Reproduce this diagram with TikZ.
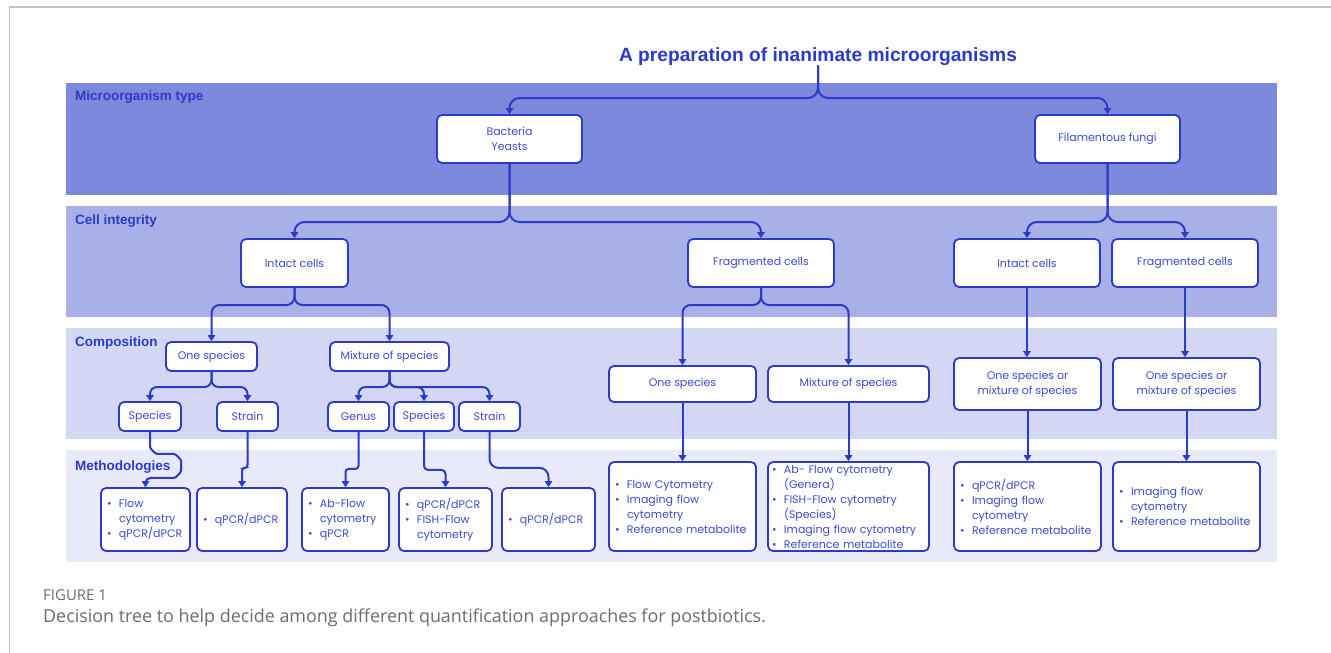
\documentclass[tikz,border=0pt]{standalone}
\usepackage{fontspec}
\setmainfont{Poppins}
\newfontfamily\headfont{Liberation Sans}
\newfontfamily\capfont{Open Sans}
\usetikzlibrary{arrows.meta}

\definecolor{tblue}{RGB}{44,58,199}
\definecolor{txtblue}{RGB}{60,76,208}
\definecolor{bandA}{RGB}{124,137,220}
\definecolor{bandB}{RGB}{168,176,232}
\definecolor{bandC}{RGB}{211,215,244}
\definecolor{bandD}{RGB}{232,234,250}
\definecolor{capgray}{RGB}{108,108,108}
\definecolor{framegray}{RGB}{195,195,195}

\tikzset{
  box/.style={draw=tblue, line width=1.8pt, rounded corners=5pt, fill=white,
    text=txtblue, font=\fontsize{11}{14.7}\selectfont, align=center, inner sep=0pt},
  listbox/.style={box, align=left, font=\fontsize{11}{15}\selectfont},
  conn/.style={draw=tblue, line width=2pt, rounded corners=8pt,
    -{Triangle[width=7.5pt,length=6pt]}},
  bandlabel/.style={anchor=base west, text=tblue, inner sep=0pt,
    font=\headfont\bfseries\fontsize{13.5}{16}\selectfont},
}
\newcommand{\bul}{\makebox[12pt][l]{\textbullet}}
\newcommand{\cnt}{\hspace*{12pt}}

\begin{document}
\begin{tikzpicture}[x=1pt,y=-1pt]
    \useasboundingbox (0,0) rectangle (1331,653);
    %% Frame
    \draw[framegray, line width=1.5pt] (9.5,653) -- (9.5,7) -- (1331,7);
    %% Bands
    \fill[bandA] (66,83) rectangle (1277,195);
    \fill[bandB] (66,206) rectangle (1277,317);
    \fill[bandC] (66,328) rectangle (1277,439);
    \fill[bandD] (66,450) rectangle (1277,562);
    \node[bandlabel] (lbA) at (75,100) {Microorganism type};
    \node[bandlabel] (lbB) at (75,224) {Cell integrity};
    \node[bandlabel] (lbC) at (75,346) {Composition};
    \node[bandlabel] (lbD) at (75,470) {Methodologies};

    %% Title
    \node[anchor=base, inner sep=0pt, text=tblue,
      font=\headfont\bfseries\fontsize{19.2}{23}\selectfont] (title) at (818,61)
      {A preparation of inanimate microorganisms};

    %% Microorganism type
    \node[box, minimum width=145pt, minimum height=48pt] (by) at (509.5,139) {Bacteria\\Yeasts};
    \node[box, minimum width=145pt, minimum height=48pt] (ff) at (1107.5,139) {Filamentous fungi};

    %% Cell integrity
    \node[box, minimum width=107pt, minimum height=48pt] (ic1) at (294.5,263) {Intact cells};
    \node[box, minimum width=146pt, minimum height=48pt] (fc1) at (761,263) {Fragmented cells};
    \node[box, minimum width=146pt, minimum height=48pt] (ic2) at (1027,263) {Intact cells};
    \node[box, minimum width=146pt, minimum height=48pt] (fc2) at (1185,263) {Fragmented cells};

    %% Composition
    \node[box, minimum width=91pt, minimum height=29pt] (os1) at (211.5,356.5) {One species};
    \node[box, minimum width=119pt, minimum height=29pt] (ms1) at (389.5,356.5) {Mixture of species};
    \node[box, minimum width=62pt, minimum height=29pt] (sp1) at (150,416.5) {Species};
    \node[box, minimum width=61pt, minimum height=29pt] (st1) at (247.5,416.5) {Strain};
    \node[box, minimum width=61pt, minimum height=29pt] (ge) at (358.5,416.5) {Genus};
    \node[box, minimum width=60pt, minimum height=29pt] (sp2) at (424,416.5) {Species};
    \node[box, minimum width=61pt, minimum height=29pt] (st2) at (489.5,416.5) {Strain};
    \node[box, minimum width=147pt, minimum height=36pt] (os2) at (682.5,384) {One species};
    \node[box, minimum width=161pt, minimum height=36pt] (ms2) at (848.5,384) {Mixture of species};
    \node[box, minimum width=147pt, minimum height=52pt] (om1) at (1027.5,384) {One species or\\mixture of species};
    \node[box, minimum width=147pt, minimum height=52pt] (om2) at (1186.5,384) {One species or\\mixture of species};

    %% Methodologies
    \node[listbox, minimum width=89pt, minimum height=63pt, text width=77pt] (m1) at (145.5,519.5)
      {\bul Flow\\\cnt cytometry\\\bul qPCR/dPCR};
    \node[listbox, minimum width=90pt, minimum height=63pt, text width=78pt] (m2) at (242,519.5)
      {\bul qPCR/dPCR};
    \node[listbox, minimum width=87pt, minimum height=63pt, text width=75pt] (m3) at (345.5,519.5)
      {\bul Ab-Flow\\\cnt cytometry\\\bul qPCR};
    \node[listbox, minimum width=93pt, minimum height=63pt, text width=81pt] (m4) at (445.5,519.5)
      {\bul qPCR/dPCR\\\bul FISH-Flow\\\cnt cytometry};
    \node[listbox, minimum width=93pt, minimum height=63pt, text width=81pt] (m5) at (548.5,519.5)
      {\bul qPCR/dPCR};
    \node[listbox, minimum width=147pt, minimum height=89pt, text width=135pt] (m6) at (682.5,506.5)
      {\bul Flow Cytometry\\\bul Imaging flow\\\cnt cytometry\\\bul Reference metabolite};
    \node[listbox, minimum width=161pt, minimum height=89pt, text width=153pt] (m7) at (848.5,506.5)
      {\bul Ab- Flow cytometry\\\cnt (Genera)\\\bul FISH-Flow cytometry\\\cnt (Species)\\\bul Imaging flow cytometry\\\bul Reference metabolite};
    \node[listbox, minimum width=147pt, minimum height=89pt, text width=135pt] (m8) at (1027.5,506.5)
      {\bul qPCR/dPCR\\\bul Imaging flow\\\cnt cytometry\\\bul Reference metabolite};
    \node[listbox, minimum width=147pt, minimum height=89pt, text width=135pt] (m9) at (1186.5,506.5)
      {\bul Imaging flow\\\cnt cytometry\\\bul Reference metabolite};

    %% Connectors
    \coordinate (lv0) at (0,98);
    \coordinate (lv1) at (0,222);
    \coordinate (lv2) at (0,305);
    \coordinate (lv3) at (0,387);
    \draw[conn, rounded corners=10pt] (title.south) -- (title.south |- lv0) -| (by.north);
    \draw[conn, rounded corners=10pt] (title.south) -- (title.south |- lv0) -| (ff.north);
    \draw[conn, rounded corners=10pt] (by.south) -- (by.south |- lv1) -| (ic1.north);
    \draw[conn, rounded corners=10pt] (by.south) -- (by.south |- lv1) -| (fc1.north);
    \draw[conn, rounded corners=10pt] (ff.south) -- (ff.south |- lv1) -| (ic2.north);
    \draw[conn, rounded corners=10pt] (ff.south) -- (ff.south |- lv1) -| (fc2.north);
    \draw[conn] (ic1.south) -- (ic1.south |- lv2) -| (os1.north);
    \draw[conn] (ic1.south) -- (ic1.south |- lv2) -| (ms1.north);
    \draw[conn] (fc1.south) -- (fc1.south |- lv2) -| (os2.north);
    \draw[conn] (fc1.south) -- (fc1.south |- lv2) -| (ms2.north);
    \draw[conn] (ic2.south) -- (ic2.south |- om1.north);
    \draw[conn] (fc2.south) -- (fc2.south |- om2.north);
    \draw[conn, rounded corners=7pt] (os1.south) -- (os1.south |- lv3) -| (sp1.north);
    \draw[conn, rounded corners=7pt] (os1.south) -- (os1.south |- lv3) -| (st1.north);
    \draw[conn, rounded corners=7pt] (ms1.south) -- (ms1.south |- lv3) -| (ge.north);
    \draw[conn, rounded corners=7pt] (ms1.south) -- (ms1.south |- lv3) -| (sp2.north);
    \draw[conn, rounded corners=7pt] (ms1.south) -- (ms1.south |- lv3) -| (st2.north);
    \draw[conn, rounded corners=5pt] (sp1.south) -- ++(0,10) to[out=-90,in=180] ++(12,12)
      -- ++(7,0) to[out=0,in=90] ++(12,12) to[out=-90,in=0] ++(-12,12) -| (m1.north);
    \draw[conn, rounded corners=3pt] (st1.south) -- ++(0,36) -| (m2.north);
    \draw[conn, rounded corners=3pt] (ge.south) -- ++(0,37) -| (m3.north);
    \draw[conn, rounded corners=4pt] (sp2.south) -- ++(0,38) -| (m4.north);
    \draw[conn, rounded corners=9pt] (st2.south) -- ++(0,36) -| (m5.north);
    \draw[conn] (os2.south) -- (os2.south |- m6.north);
    \draw[conn] (ms2.south) -- (ms2.south |- m7.north);
    \draw[conn] (om1.south) -- (om1.south |- m8.north);
    \draw[conn] (om2.south) -- (om2.south |- m9.north);

    %% Caption
    \node[anchor=base west, inner sep=0pt, text=capgray, font=\capfont\fontsize{15}{18}\selectfont]
      (fig) at (43,600) {FIGURE 1};
    \node[anchor=base west, inner sep=0pt, text=capgray, font=\capfont\fontsize{17.9}{21}\selectfont]
      (cap) at (43,622.5) {Decision tree to help decide among different quantification approaches for postbiotics.};
\end{tikzpicture}
\end{document}
